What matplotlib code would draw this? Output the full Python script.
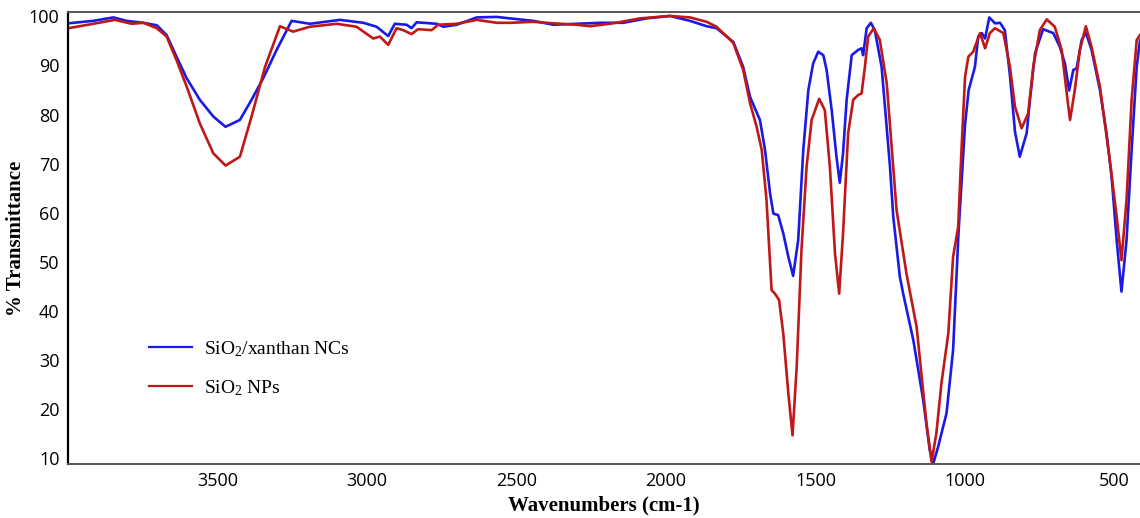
#!/usr/bin/env python3
"""FTIR spectra: SiO2/xanthan nanocomposite vs bare SiO2 nanoparticles."""

import matplotlib
matplotlib.use("Agg")
import matplotlib.pyplot as plt

# SiO2/xanthan NCs (blue trace)
WN_NC = [3999, 3915, 3848, 3804, 3748, 3703, 3670, 3637, 3603, 3559, 3514,
         3473, 3425, 3386, 3347, 3302, 3252, 3191, 3090, 3012, 2968, 2929,
         2907, 2867, 2851, 2834, 2767, 2745, 2700, 2633, 2566, 2522, 2444,
         2377, 2299, 2221, 2143, 2065, 1987, 1920, 1864, 1831, 1775, 1742,
         1719, 1703, 1686, 1669, 1652, 1641, 1625, 1608, 1591, 1575, 1558,
         1541, 1524, 1508, 1491, 1474, 1463, 1446, 1430, 1419, 1408, 1396,
         1379, 1357, 1346, 1341, 1329, 1315, 1302, 1279, 1251, 1240, 1218,
         1207, 1173, 1140, 1118, 1106, 1090, 1062, 1040, 1022, 1000, 988,
         967, 956, 944, 933, 919, 900, 883, 867, 850, 833, 817, 794, 783,
         766, 739, 705, 683, 666, 652, 638, 627, 610, 596, 577, 549, 527,
         510, 493, 477, 460, 443, 426, 415]
T_NC = [98.6, 99.1, 99.8, 99.1, 98.7, 98.2, 96.2, 91.8, 87.4, 83.0, 79.6,
        77.5, 78.9, 83.0, 87.4, 93.2, 99.1, 98.5, 99.3, 98.7, 97.9, 96.0,
        98.5, 98.3, 97.6, 98.8, 98.5, 97.9, 98.3, 99.8, 99.9, 99.6, 99.1,
        98.3, 98.5, 98.7, 98.7, 99.6, 100.1, 99.1, 98.0, 97.6, 94.8, 89.7,
        83.6, 81.3, 78.9, 72.8, 63.9, 59.8, 59.5, 55.8, 51.0, 47.1, 54.4,
        72.8, 85.0, 90.4, 92.8, 92.1, 89.1, 80.9, 71.4, 66.1, 72.1, 83.0,
        92.1, 93.2, 93.5, 92.1, 97.6, 98.7, 97.2, 89.7, 69.3, 59.1, 46.9,
        43.5, 34.0, 21.8, 11.6, 8.9, 12.3, 19.1, 32.0, 55.8, 78.0, 85.0,
        89.7, 95.9, 96.6, 95.5, 99.8, 98.6, 98.7, 97.2, 88.0, 76.5, 71.4,
        76.2, 83.0, 92.5, 97.4, 96.6, 93.8, 90.4, 84.9, 89.1, 89.4, 95.2,
        96.7, 93.2, 85.0, 76.2, 67.3, 54.4, 43.9, 54.4, 72.8, 89.7, 95.2]

# SiO2 NPs (red trace)
WN_NP = [3999, 3915, 3843, 3787, 3748, 3703, 3670, 3637, 3603, 3559, 3514,
         3473, 3425, 3386, 3341, 3291, 3247, 3191, 3101, 3035, 2979, 2957,
         2929, 2901, 2879, 2851, 2829, 2784, 2762, 2700, 2633, 2566, 2522,
         2444, 2377, 2299, 2254, 2177, 2087, 1987, 1920, 1864, 1831, 1775,
         1742, 1719, 1697, 1680, 1664, 1647, 1636, 1622, 1608, 1591, 1577,
         1563, 1547, 1530, 1513, 1488, 1469, 1452, 1435, 1421, 1408, 1391,
         1374, 1357, 1346, 1335, 1324, 1305, 1285, 1262, 1229, 1196, 1162,
         1129, 1112, 1096, 1079, 1056, 1040, 1023, 1012, 1000, 989, 973,
         950, 933, 917, 900, 872, 850, 833, 811, 789, 772, 750, 727, 700,
         677, 660, 649, 633, 616, 596, 577, 549, 516, 493, 477, 460, 443,
         426, 415]
T_NP = [97.6, 98.5, 99.3, 98.5, 98.7, 97.6, 95.9, 91.1, 85.7, 78.2, 72.1,
        69.6, 71.4, 79.6, 89.7, 98.0, 96.9, 97.9, 98.5, 97.9, 95.5, 95.9,
        94.2, 97.6, 97.2, 96.4, 97.4, 97.2, 98.3, 98.5, 99.3, 98.7, 98.7,
        98.9, 98.6, 98.3, 98.0, 98.6, 99.6, 100.1, 99.8, 98.9, 97.9, 94.6,
        89.1, 82.3, 77.5, 72.8, 62.6, 44.2, 43.5, 42.2, 35.4, 23.2, 14.6,
        28.6, 52.4, 69.3, 78.9, 83.2, 80.9, 69.3, 51.7, 43.5, 55.8, 76.2,
        83.0, 84.0, 84.3, 89.7, 95.9, 97.6, 95.2, 86.4, 60.5, 47.6, 36.7,
        17.0, 9.2, 15.0, 25.2, 35.4, 51.0, 57.1, 72.8, 87.7, 91.8, 92.8,
        96.6, 93.5, 96.6, 97.6, 96.6, 89.7, 81.6, 77.2, 80.2, 89.7, 97.2,
        99.4, 97.9, 93.2, 84.3, 78.9, 85.0, 93.2, 98.0, 93.8, 85.7, 70.7,
        59.2, 50.3, 62.6, 83.0, 95.2, 96.2]

X_TICKS = [3500, 3000, 2500, 2000, 1500, 1000, 500]
Y_TICKS = [10, 20, 30, 40, 50, 60, 70, 80, 90, 100]

plt.rcParams["mathtext.default"] = "regular"

fig = plt.figure(figsize=(11.4, 5.18), dpi=100)
ax = fig.add_axes([0.0596, 0.1042, 0.9404, 0.8726])

ax.plot(WN_NC, T_NC, color="#1a1ae6", lw=1.9, label="SiO$_2$/xanthan NCs")
ax.plot(WN_NP, T_NP, color="#c01818", lw=1.9, label="SiO$_2$ NPs")

ax.set_xlim(4000, 415)
ax.set_ylim(8.75, 100.9)
ax.set_xticks(X_TICKS)
ax.set_yticks(Y_TICKS)
ax.tick_params(length=0, labelsize=13, pad=6)
for lbl in ax.get_xticklabels() + ax.get_yticklabels():
    lbl.set_family("Open Sans")

ax.spines["right"].set_visible(False)
ax.spines["left"].set_color("black")
ax.spines["left"].set_linewidth(1.6)
for side in ("top", "bottom"):
    ax.spines[side].set_color("#555555")
    ax.spines[side].set_linewidth(1.4)

ax.set_xlabel("Wavenumbers (cm-1)", family="Liberation Serif",
              fontweight="bold", fontsize=15, labelpad=4)
ax.set_ylabel("% Transmittance", family="Liberation Serif",
              fontweight="bold", fontsize=15)
ax.yaxis.set_label_coords(-0.039, 0.5)

leg = ax.legend(loc="upper left", bbox_to_anchor=(0.067, 0.298),
                frameon=False, borderpad=0, handlelength=2.2,
                handletextpad=0.6, labelspacing=1.0,
                prop={"family": "Liberation Serif", "size": 14})
for line in leg.get_lines():
    line.set_linewidth(1.6)

fig.savefig("out.png", dpi=100)
